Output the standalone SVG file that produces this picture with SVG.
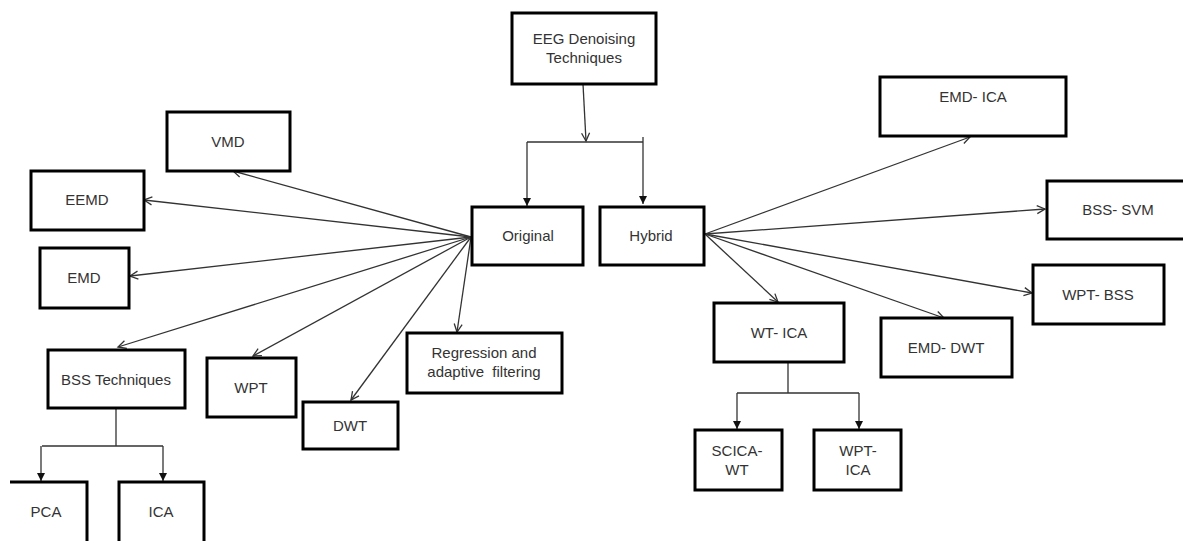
<svg xmlns="http://www.w3.org/2000/svg" width="1183" height="541" viewBox="0 0 1183 541">
<style>
.box{fill:#fff;stroke:#000;stroke-width:3}
.t{font-family:"Liberation Sans",Arial,sans-serif;font-size:15px;fill:#333;text-anchor:middle}
.c{fill:none;stroke:#333;stroke-width:1.3}
.o{marker-end:url(#open)}
.f{marker-end:url(#fill)}
</style>
<defs>
<marker id="open" markerUnits="userSpaceOnUse" markerWidth="12" markerHeight="12" refX="9" refY="5" orient="auto" viewBox="0 0 12 10">
<path d="M1,1 L9,5 L1,9" fill="none" stroke="#333" stroke-width="1.3"/>
</marker>
<marker id="fill" markerUnits="userSpaceOnUse" markerWidth="10" markerHeight="10" refX="8" refY="4" orient="auto" viewBox="0 0 10 8">
<path d="M0,0 L8,4 L0,8 Z" fill="#111"/>
</marker>
</defs>
<rect width="1183" height="541" fill="#fff"/>
<g id="connectors">
<path class="c o" d="M583,84 L586,141"/>
<path class="c" d="M527,142 H643"/>
<path class="c f" d="M527,142 V206"/>
<path class="c f" d="M643,137 V204"/>
<path class="c o" d="M471,237 L233,171"/>
<path class="c o" d="M471,237 L144,200"/>
<path class="c o" d="M471,237 L130,276"/>
<path class="c o" d="M471,237 L118,347"/>
<path class="c o" d="M471,237 L253,356"/>
<path class="c o" d="M471,237 L351,400"/>
<path class="c o" d="M471,237 L457,332"/>
<path class="c o" d="M705,234 L970,137"/>
<path class="c o" d="M705,234 L1045,209"/>
<path class="c o" d="M705,234 L1032,293"/>
<path class="c o" d="M705,234 L778,302"/>
<path class="c o" d="M705,234 L944,318"/>
<path class="c" d="M116,409 V446 M42,446 H163"/>
<path class="c f" d="M41,446 V481"/>
<path class="c f" d="M163,446 V481"/>
<path class="c" d="M788,362 V393 M737,393 H859" stroke="#666"/>
<path class="c f" d="M737,393 V429"/>
<path class="c f" d="M859,393 V429"/>
</g>
<g id="eeg"><rect class="box" x="512" y="13" width="144" height="71"/><text class="t" x="584" y="44">EEG Denoising</text><text class="t" x="584" y="63">Techniques</text></g>
<g id="original"><rect class="box" x="472" y="207" width="111" height="58"/><text class="t" x="528" y="241">Original</text></g>
<g id="hybrid"><rect class="box" x="600" y="207" width="104" height="58"/><text class="t" x="651" y="241">Hybrid</text></g>
<g id="vmd"><rect class="box" x="167" y="112" width="123" height="59"/><text class="t" x="228" y="147">VMD</text></g>
<g id="eemd"><rect class="box" x="31" y="171" width="113" height="59"/><text class="t" x="87" y="205">EEMD</text></g>
<g id="emd"><rect class="box" x="40" y="248" width="89" height="60"/><text class="t" x="84" y="283">EMD</text></g>
<g id="bss"><rect class="box" x="48" y="350" width="137" height="58"/><text class="t" x="116" y="385">BSS Techniques</text></g>
<g id="wpt"><rect class="box" x="207" y="358" width="89" height="59"/><text class="t" x="251" y="393">WPT</text></g>
<g id="dwt"><rect class="box" x="303" y="402" width="95" height="47"/><text class="t" x="350" y="431">DWT</text></g>
<g id="regression"><rect class="box" x="407" y="333" width="155" height="60"/><text class="t" x="484" y="358">Regression and</text><text class="t" x="484" y="377" xml:space="preserve">adaptive  filtering</text></g>
<g id="pca"><path class="box" d="M10,482 H87 V545" /><text class="t" x="46" y="517">PCA</text></g>
<g id="ica"><path class="box" d="M119,545 V482 H204 V545"/><text class="t" x="161" y="517">ICA</text></g>
<g id="emd-ica"><rect class="box" x="880" y="77" width="186" height="59"/><text class="t" x="973" y="102">EMD- ICA</text></g>
<g id="bss-svm"><rect class="box" x="1047" y="181" width="150" height="58"/><text class="t" x="1118" y="215">BSS- SVM</text></g>
<g id="wpt-bss"><rect class="box" x="1033" y="265" width="131" height="59"/><text class="t" x="1098" y="300">WPT- BSS</text></g>
<g id="wt-ica"><rect class="box" x="714" y="303" width="130" height="59"/><text class="t" x="779" y="338">WT- ICA</text></g>
<g id="emd-dwt"><rect class="box" x="881" y="318" width="131" height="59"/><text class="t" x="946" y="353">EMD- DWT</text></g>
<g id="scica-wt"><rect class="box" x="695" y="430" width="87" height="60"/><text class="t" x="737" y="456">SCICA-</text><text class="t" x="737" y="475">WT</text></g>
<g id="wpt-ica"><rect class="box" x="814" y="430" width="87" height="60"/><text class="t" x="858" y="456">WPT-</text><text class="t" x="858" y="475">ICA</text></g>
</svg>
